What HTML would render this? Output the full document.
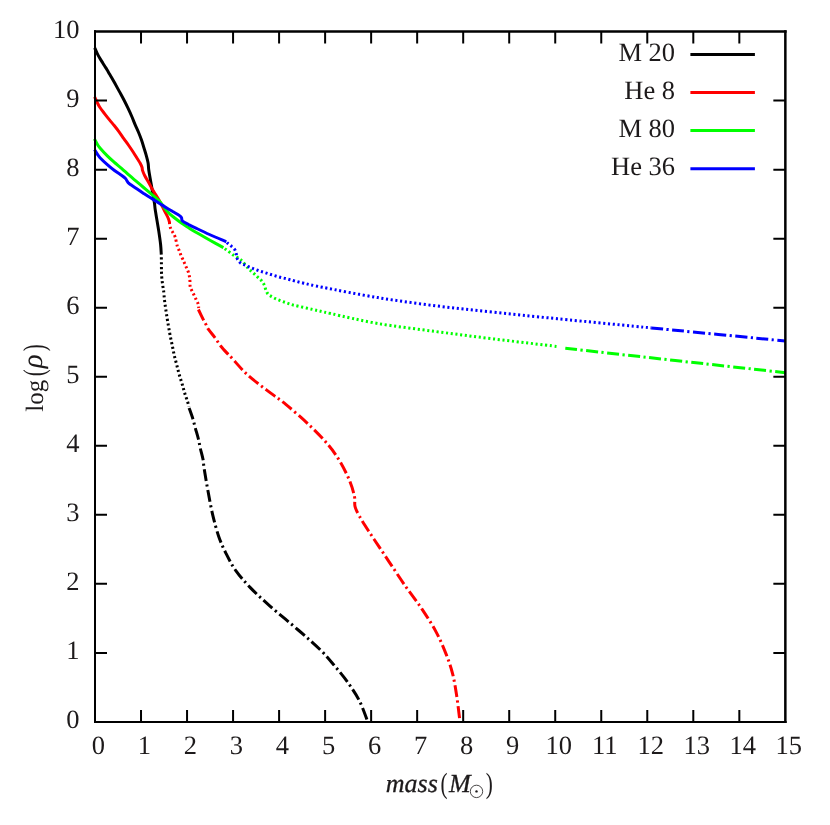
<!DOCTYPE html>
<html><head><meta charset="utf-8"><title>log rho vs mass</title>
<style>
html,body{margin:0;padding:0;background:#fff;}
body{width:830px;height:825px;overflow:hidden;font-family:"Liberation Serif",serif;}
svg{display:block;will-change:transform;}
svg text{text-rendering:geometricPrecision;font-family:"Liberation Serif",serif;font-size:26.5px;fill:#1d1a1b;}
.it{font-style:italic;}
</style></head><body>
<svg width="830" height="825" viewBox="0 0 830 825">
<rect width="830" height="825" fill="#fff"/>
<g fill="none" stroke-width="3" stroke-linecap="butt" stroke-linejoin="round">
<path d="M94.60 47.70 C94.67 47.83 94.55 47.52 95.00 48.50 C95.45 49.48 96.52 52.02 97.30 53.60 C98.08 55.18 98.90 56.62 99.70 58.00 C100.50 59.38 101.30 60.60 102.10 61.90 C102.90 63.20 103.68 64.50 104.50 65.80 C105.32 67.10 106.17 68.33 107.00 69.70 C107.83 71.07 108.67 72.58 109.50 74.00 C110.33 75.42 111.15 76.73 112.00 78.20 C112.85 79.67 113.38 80.60 114.60 82.80 C115.82 85.00 117.72 88.48 119.30 91.40 C120.88 94.32 122.65 97.50 124.10 100.30 C125.55 103.10 126.72 105.50 128.00 108.20 C129.28 110.90 130.62 113.77 131.80 116.50 C132.98 119.23 133.98 121.97 135.10 124.60 C136.22 127.23 137.43 129.72 138.50 132.30 C139.57 134.88 140.58 137.48 141.50 140.10 C142.42 142.72 143.20 145.42 144.00 148.00 C144.80 150.58 145.62 153.10 146.30 155.60 C146.98 158.10 147.70 160.68 148.10 163.00 C148.50 165.32 148.37 167.00 148.70 169.50 C149.03 172.00 149.62 175.17 150.10 178.00 C150.58 180.83 151.12 183.67 151.60 186.50 C152.08 189.33 152.52 192.17 153.00 195.00 C153.48 197.83 154.13 201.08 154.50 203.50 C154.87 205.92 154.78 206.67 155.20 209.50 C155.62 212.33 156.40 216.85 157.00 220.50 C157.60 224.15 158.20 227.40 158.80 231.40 C159.40 235.40 160.18 240.62 160.60 244.50 C161.02 248.38 161.18 253.00 161.30 254.70" stroke="#000000"/>
<path d="M161.30 254.70 C161.32 255.97 161.37 259.47 161.40 262.30 C161.43 265.13 161.45 269.33 161.50 271.70 C161.55 274.07 161.58 274.88 161.70 276.50 C161.82 278.12 162.02 279.83 162.20 281.40 C162.38 282.97 162.57 284.37 162.80 285.90 C163.03 287.43 163.32 288.23 163.60 290.60 C163.88 292.97 164.13 296.95 164.50 300.10 C164.87 303.25 165.33 306.32 165.80 309.50 C166.27 312.68 166.80 316.12 167.30 319.20 C167.80 322.28 168.27 324.98 168.80 328.00 C169.33 331.02 169.88 334.18 170.50 337.30 C171.12 340.42 171.85 343.60 172.50 346.70 C173.15 349.80 173.68 352.83 174.40 355.90 C175.12 358.97 176.00 362.00 176.80 365.10 C177.60 368.20 178.33 371.43 179.20 374.50 C180.07 377.57 181.10 380.47 182.00 383.50 C182.90 386.53 183.67 389.65 184.60 392.70 C185.53 395.75 186.88 399.48 187.60 401.80 C188.32 404.12 188.68 405.80 188.90 406.60" stroke="#000000" stroke-dasharray="2.1 2.65" stroke-dashoffset="2.0"/>
<path d="M189.10 407.90 C189.72 409.68 191.75 415.20 192.80 418.60 C193.85 422.00 194.47 424.90 195.40 428.30 C196.33 431.70 197.58 435.68 198.40 439.00 C199.22 442.32 199.53 444.82 200.30 448.20 C201.07 451.58 202.35 455.87 203.00 459.30 C203.65 462.73 203.38 463.58 204.20 468.80 C205.02 474.02 206.48 482.93 207.90 490.60 C209.32 498.27 210.88 507.12 212.70 514.80 C214.52 522.48 216.57 530.23 218.80 536.70 C221.03 543.17 223.27 547.95 226.10 553.60 C228.93 559.25 231.77 564.93 235.80 570.60 C239.83 576.27 244.65 581.73 250.30 587.60 C255.95 593.47 261.62 598.65 269.70 605.80 C277.78 612.95 290.28 623.08 298.80 630.50 C307.32 637.92 314.77 644.33 320.80 650.30 C326.83 656.27 330.43 660.85 335.00 666.30 C339.57 671.75 344.10 677.18 348.20 683.00 C352.30 688.82 356.33 694.73 359.60 701.20 C362.87 707.67 366.43 718.37 367.80 721.80" stroke="#000000" stroke-dasharray="12 3.4 2.2 3.5" stroke-dashoffset="0"/>
<path d="M94.60 96.80 C94.67 96.93 94.57 96.67 95.00 97.60 C95.43 98.53 96.40 100.78 97.20 102.40 C98.00 104.02 98.55 105.40 99.80 107.30 C101.05 109.20 103.08 111.70 104.70 113.80 C106.32 115.90 107.92 117.95 109.50 119.90 C111.08 121.85 112.63 123.55 114.20 125.50 C115.77 127.45 117.30 129.42 118.90 131.60 C120.50 133.78 122.22 136.37 123.80 138.60 C125.38 140.83 126.82 142.73 128.40 145.00 C129.98 147.27 131.83 149.95 133.30 152.20 C134.77 154.45 136.05 156.67 137.20 158.50 C138.35 160.33 139.40 161.73 140.20 163.20 C141.00 164.67 141.60 166.07 142.00 167.30 C142.40 168.53 142.12 169.15 142.60 170.60 C143.08 172.05 143.93 174.10 144.90 176.00 C145.87 177.90 147.23 179.92 148.40 182.00 C149.57 184.08 150.72 186.43 151.90 188.50 C153.08 190.57 154.30 192.45 155.50 194.40 C156.70 196.35 158.18 198.65 159.10 200.20 C160.02 201.75 160.08 201.90 161.00 203.70 C161.92 205.50 163.45 208.70 164.60 211.00 C165.75 213.30 167.10 215.68 167.90 217.50 C168.70 219.32 169.13 220.80 169.40 221.90 C169.67 223.00 169.48 223.73 169.50 224.10" stroke="#ff0000"/>
<path d="M169.50 224.10 C169.72 224.88 170.22 227.35 170.80 228.80 C171.38 230.25 172.27 231.40 173.00 232.80 C173.73 234.20 174.47 234.92 175.20 237.20 C175.93 239.48 176.70 244.20 177.40 246.50 C178.10 248.80 178.80 249.50 179.40 251.00 C180.00 252.50 180.40 254.05 181.00 255.50 C181.60 256.95 182.35 258.27 183.00 259.70 C183.65 261.13 184.27 262.63 184.90 264.10 C185.53 265.57 186.18 267.03 186.80 268.50 C187.42 269.97 188.13 271.40 188.60 272.90 C189.07 274.40 189.37 275.98 189.60 277.50 C189.83 279.02 189.90 280.47 190.00 282.00 C190.10 283.53 189.88 285.23 190.20 286.70 C190.52 288.17 191.25 289.38 191.90 290.80 C192.55 292.22 193.40 293.75 194.10 295.20 C194.80 296.65 195.42 298.03 196.10 299.50 C196.78 300.97 197.77 302.58 198.20 304.00 C198.63 305.42 198.62 307.33 198.70 308.00" stroke="#ff0000" stroke-dasharray="2.1 2.65" stroke-dashoffset="2.0"/>
<path d="M198.40 309.50 C199.30 311.35 202.55 318.12 203.80 320.60 C205.05 323.08 205.15 322.97 205.90 324.40 C206.65 325.83 206.77 326.95 208.30 329.20 C209.83 331.45 213.00 335.07 215.10 337.90 C217.20 340.73 218.72 343.45 220.90 346.20 C223.08 348.95 226.42 352.47 228.20 354.40 C229.98 356.33 228.47 354.47 231.60 357.80 C234.73 361.13 241.20 369.05 247.00 374.40 C252.80 379.75 259.93 384.90 266.40 389.90 C272.87 394.90 278.70 398.58 285.80 404.40 C292.90 410.22 301.98 418.12 309.00 424.80 C316.02 431.48 322.73 438.38 327.90 444.50 C333.07 450.62 336.37 455.43 340.00 461.50 C343.63 467.57 347.28 475.03 349.70 480.90 C352.12 486.77 353.62 492.45 354.50 496.70 C355.38 500.95 354.18 503.17 355.00 506.40 C355.82 509.63 357.05 511.87 359.40 516.10 C361.75 520.33 365.87 526.75 369.10 531.80 C372.33 536.85 375.47 541.40 378.80 546.40 C382.13 551.40 384.67 555.18 389.10 561.80 C393.53 568.42 399.92 578.22 405.40 586.10 C410.88 593.98 416.87 601.43 422.00 609.10 C427.13 616.77 432.20 624.63 436.20 632.10 C440.20 639.57 443.28 647.03 446.00 653.90 C448.72 660.77 450.73 666.42 452.50 673.30 C454.27 680.18 455.35 687.12 456.60 695.20 C457.85 703.28 459.43 717.37 460.00 721.80" stroke="#ff0000" stroke-dasharray="12 3.4 2.2 3.5" stroke-dashoffset="0"/>
<path d="M94.50 138.90 C94.57 139.03 94.40 138.77 94.90 139.70 C95.40 140.63 96.65 143.13 97.50 144.50 C98.35 145.87 98.37 146.00 100.00 147.90 C101.63 149.80 104.88 153.47 107.30 155.90 C109.72 158.33 112.08 160.38 114.50 162.50 C116.92 164.62 119.37 166.48 121.80 168.60 C124.23 170.72 126.67 173.07 129.10 175.20 C131.53 177.33 133.98 179.35 136.40 181.40 C138.82 183.45 141.18 185.45 143.60 187.50 C146.02 189.55 148.23 191.42 150.90 193.70 C153.57 195.98 157.32 198.80 159.60 201.20 C161.88 203.60 163.03 206.10 164.60 208.10 C166.17 210.10 167.42 211.63 169.00 213.20 C170.58 214.77 172.03 215.87 174.10 217.50 C176.17 219.13 178.98 221.30 181.40 223.00 C183.82 224.70 186.18 226.15 188.60 227.70 C191.02 229.25 192.42 230.25 195.90 232.30 C199.38 234.35 204.92 237.45 209.50 240.00 C214.08 242.55 221.08 246.33 223.40 247.60" stroke="#00ff00"/>
<path d="M224.80 248.60 C225.05 248.80 225.38 249.12 226.30 249.80 C227.22 250.48 229.00 251.73 230.30 252.70 C231.60 253.67 232.73 254.68 234.10 255.60 C235.47 256.52 237.13 257.27 238.50 258.20 C239.87 259.13 240.70 259.53 242.30 261.20 C243.90 262.87 246.53 266.48 248.10 268.20 C249.67 269.92 250.52 270.42 251.70 271.50 C252.88 272.58 254.05 273.62 255.20 274.70 C256.35 275.78 257.45 276.88 258.60 278.00 C259.75 279.12 261.12 280.13 262.10 281.40 C263.08 282.67 263.87 284.17 264.50 285.60 C265.13 287.03 265.30 288.57 265.90 290.00 C266.50 291.43 267.05 293.05 268.10 294.20 C269.15 295.35 270.80 296.08 272.20 296.90 C273.60 297.72 275.07 298.45 276.50 299.10 C277.93 299.75 279.33 300.25 280.80 300.80 C282.27 301.35 283.78 301.87 285.30 302.40 C286.82 302.93 288.40 303.52 289.90 304.00 C291.40 304.48 290.53 304.40 294.30 305.30 C298.07 306.20 306.32 308.00 312.50 309.40 C318.68 310.80 320.52 311.35 331.40 313.70 C342.28 316.05 360.42 320.53 377.80 323.50 C395.18 326.47 416.42 328.93 435.70 331.50 C454.98 334.07 473.35 336.42 493.50 338.90 C513.65 341.38 546.08 345.15 556.60 346.40" stroke="#00ff00" stroke-dasharray="2.1 2.65" stroke-dashoffset="0.0"/>
<path d="M565.30 348.30 C601.97 352.37 748.63 368.63 785.30 372.70" stroke="#00ff00" stroke-dasharray="12 3.4 2.2 3.5" stroke-dashoffset="0"/>
<path d="M94.50 149.70 C94.57 149.80 94.40 149.53 94.90 150.30 C95.40 151.07 96.65 153.07 97.50 154.30 C98.35 155.53 98.37 155.98 100.00 157.70 C101.63 159.42 104.88 162.47 107.30 164.60 C109.72 166.73 112.08 168.68 114.50 170.50 C116.92 172.32 119.97 174.17 121.80 175.50 C123.63 176.83 124.58 177.52 125.50 178.50 C126.42 179.48 126.70 180.57 127.30 181.40 C127.90 182.23 127.58 182.30 129.10 183.50 C130.62 184.70 133.98 186.95 136.40 188.60 C138.82 190.25 141.18 191.82 143.60 193.40 C146.02 194.98 148.23 196.43 150.90 198.10 C153.57 199.77 156.95 201.75 159.60 203.40 C162.25 205.05 164.38 206.52 166.80 208.00 C169.22 209.48 172.03 211.07 174.10 212.30 C176.17 213.53 177.98 214.53 179.20 215.40 C180.42 216.27 180.92 216.65 181.40 217.50 C181.88 218.35 181.62 219.70 182.10 220.50 C182.58 221.30 183.22 221.63 184.30 222.30 C185.38 222.97 186.67 223.53 188.60 224.50 C190.53 225.47 192.42 226.43 195.90 228.10 C199.38 229.77 204.43 232.22 209.50 234.50 C214.57 236.78 223.50 240.58 226.30 241.80" stroke="#0000ff"/>
<path d="M227.00 242.50 C227.18 242.68 227.32 242.93 228.10 243.60 C228.88 244.27 230.55 245.43 231.70 246.50 C232.85 247.57 234.20 248.62 235.00 250.00 C235.80 251.38 236.08 253.25 236.50 254.80 C236.92 256.35 236.82 257.93 237.50 259.30 C238.18 260.67 239.32 262.02 240.60 263.00 C241.88 263.98 243.77 264.53 245.20 265.20 C246.63 265.87 247.77 266.40 249.20 267.00 C250.63 267.60 252.28 268.22 253.80 268.80 C255.32 269.38 256.80 269.97 258.30 270.50 C259.80 271.03 261.28 271.52 262.80 272.00 C264.32 272.48 265.88 272.92 267.40 273.40 C268.92 273.88 270.38 274.43 271.90 274.90 C273.42 275.37 274.98 275.77 276.50 276.20 C278.02 276.63 279.50 277.12 281.00 277.50 C282.50 277.88 283.98 278.12 285.50 278.50 C287.02 278.88 288.58 279.40 290.10 279.80 C291.62 280.20 292.33 280.33 294.60 280.90 C296.87 281.47 299.03 282.13 303.70 283.20 C308.37 284.27 310.25 284.90 322.60 287.30 C334.95 289.70 358.95 294.52 377.80 297.60 C396.65 300.68 416.42 303.37 435.70 305.80 C454.98 308.23 473.27 310.05 493.50 312.20 C513.73 314.35 530.82 316.08 557.10 318.70 C583.38 321.32 635.52 326.37 651.20 327.90" stroke="#0000ff" stroke-dasharray="2.1 2.65" stroke-dashoffset="0.0"/>
<path d="M651.20 327.90 C673.55 330.08 762.95 338.82 785.30 341.00" stroke="#0000ff" stroke-dasharray="12 3.4 2.2 3.5" stroke-dashoffset="0"/>
</g>
<g fill="none" stroke="#000"><path d="M141.02 721.95 v-12.00 M141.02 31.55 v12.00 M187.05 721.95 v-12.00 M187.05 31.55 v12.00 M233.07 721.95 v-12.00 M233.07 31.55 v12.00 M279.09 721.95 v-12.00 M279.09 31.55 v12.00 M325.12 721.95 v-12.00 M325.12 31.55 v12.00 M371.14 721.95 v-12.00 M371.14 31.55 v12.00 M417.16 721.95 v-12.00 M417.16 31.55 v12.00 M463.19 721.95 v-12.00 M463.19 31.55 v12.00 M509.21 721.95 v-12.00 M509.21 31.55 v12.00 M555.23 721.95 v-12.00 M555.23 31.55 v12.00 M601.26 721.95 v-12.00 M601.26 31.55 v12.00 M647.28 721.95 v-12.00 M647.28 31.55 v12.00 M693.30 721.95 v-12.00 M693.30 31.55 v12.00 M739.33 721.95 v-12.00 M739.33 31.55 v12.00 M95.00 652.91 h12.00 M785.35 652.91 h-12.00 M95.00 583.87 h12.00 M785.35 583.87 h-12.00 M95.00 514.83 h12.00 M785.35 514.83 h-12.00 M95.00 445.79 h12.00 M785.35 445.79 h-12.00 M95.00 376.75 h12.00 M785.35 376.75 h-12.00 M95.00 307.71 h12.00 M785.35 307.71 h-12.00 M95.00 238.67 h12.00 M785.35 238.67 h-12.00 M95.00 169.63 h12.00 M785.35 169.63 h-12.00 M95.00 100.59 h12.00 M785.35 100.59 h-12.00" stroke-width="2.0"/><path d="M95.00 30.30 V722.95" stroke-width="2"/><path d="M94.00 721.95 H786.60" stroke-width="2.05"/><path d="M94.00 31.55 H786.60" stroke-width="2.5"/><path d="M785.35 30.30 V722.95" stroke-width="2.5"/></g>
<g>
<text x="79.40" y="728.25" text-anchor="end">0</text>
<text x="79.40" y="659.21" text-anchor="end">1</text>
<text x="79.40" y="590.17" text-anchor="end">2</text>
<text x="79.40" y="521.13" text-anchor="end">3</text>
<text x="79.40" y="452.09" text-anchor="end">4</text>
<text x="79.40" y="383.05" text-anchor="end">5</text>
<text x="79.40" y="314.01" text-anchor="end">6</text>
<text x="79.40" y="244.97" text-anchor="end">7</text>
<text x="79.40" y="175.93" text-anchor="end">8</text>
<text x="79.40" y="106.89" text-anchor="end">9</text>
<text x="79.40" y="37.85" text-anchor="end">10</text>
<text x="98.40" y="753.90" text-anchor="middle">0</text>
<text x="144.42" y="753.90" text-anchor="middle">1</text>
<text x="190.45" y="753.90" text-anchor="middle">2</text>
<text x="236.47" y="753.90" text-anchor="middle">3</text>
<text x="282.49" y="753.90" text-anchor="middle">4</text>
<text x="328.52" y="753.90" text-anchor="middle">5</text>
<text x="374.54" y="753.90" text-anchor="middle">6</text>
<text x="420.56" y="753.90" text-anchor="middle">7</text>
<text x="466.59" y="753.90" text-anchor="middle">8</text>
<text x="512.61" y="753.90" text-anchor="middle">9</text>
<text x="558.63" y="753.90" text-anchor="middle">10</text>
<text x="604.66" y="753.90" text-anchor="middle">11</text>
<text x="650.68" y="753.90" text-anchor="middle">12</text>
<text x="696.70" y="753.90" text-anchor="middle">13</text>
<text x="742.73" y="753.90" text-anchor="middle">14</text>
<text x="788.75" y="753.90" text-anchor="middle">15</text>
</g>
<g>
<text x="675.1" y="61.00" text-anchor="end">M 20</text>
<path d="M690.4 54.40 H754.9" stroke="#000000" stroke-width="3" fill="none"/>
<text x="675.1" y="99.10" text-anchor="end">He 8</text>
<path d="M690.4 92.50 H754.9" stroke="#ff0000" stroke-width="3" fill="none"/>
<text x="675.1" y="137.20" text-anchor="end">M 80</text>
<path d="M690.4 130.60 H754.9" stroke="#00ff00" stroke-width="3" fill="none"/>
<text x="675.1" y="175.30" text-anchor="end">He 36</text>
<path d="M690.4 168.70 H754.9" stroke="#0000ff" stroke-width="3" fill="none"/>
</g>
<!-- x axis title -->
<g>
<text class="it" x="385.8" y="791.6" style="font-size:26px" stroke="#1d1a1b" stroke-width="0.3">mass</text>
<text transform="translate(440.5 792.65) scale(0.8 1.1)" x="0" y="0">(</text>
<text class="it" x="449.0" y="791.6" style="font-size:26px" stroke="#1d1a1b" stroke-width="0.3">M</text>
<circle cx="476.5" cy="791.4" r="6.2" fill="none" stroke="#1d1a1b" stroke-width="0.8"/>
<circle cx="476.5" cy="791.4" r="1.2" fill="#1d1a1b"/>
<text transform="translate(485.7 792.65) scale(0.8 1.1)" x="0" y="0">)</text>
</g>
<!-- y axis title -->
<g transform="translate(43.1 411.8) rotate(-90)">
<text x="0" y="0" style="font-size:25px">log</text>
<text transform="translate(35.5 0.86) scale(0.8 1.14)" x="0" y="0">(</text>
<text class="it" x="43.5" y="-1.4" style="font-size:29px">&#961;</text>
<text transform="translate(60.6 0.86) scale(0.8 1.14)" x="0" y="0">)</text>
</g>
</svg>
</body></html>
